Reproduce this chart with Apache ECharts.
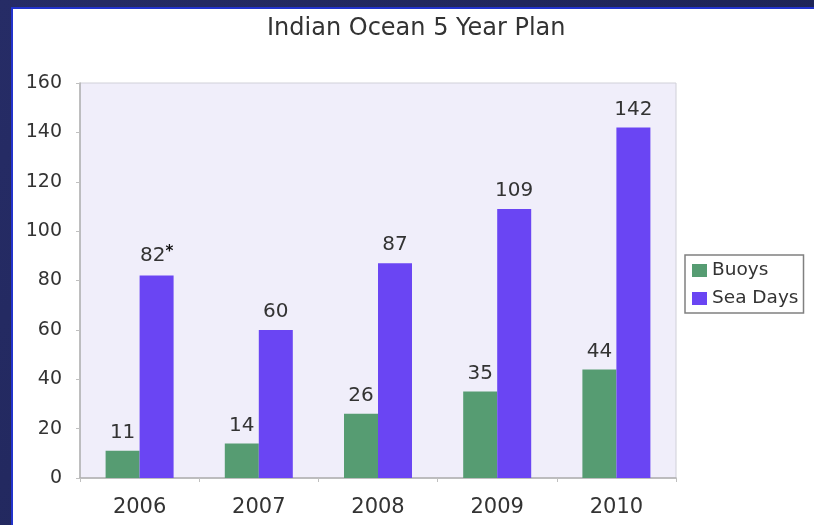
<!DOCTYPE html>
<html><head><meta charset="utf-8">
<script src="https://cdn.jsdelivr.net/npm/echarts@6/dist/echarts.min.js"></script>
<style>html,body{margin:0;padding:0;background:#1d2358;}#c{width:814px;height:525px;}</style>
</head><body><div id="c"></div>
<script>
const categories = ['2006','2007','2008','2009','2010'];
const buoys = [11, 14, 26, 35, 44];
const seaDays = [82, 60, 87, 109, 142];
const seaDaysNotes = ['*', '', '', '', ''];
const yTicks = {min: 0, max: 160, interval: 20};

const chart = echarts.init(document.getElementById('c'));
const font = "'DejaVu Sans', Verdana, sans-serif";
chart.setOption({
  backgroundColor: {type:'linear', x:0, y:0, x2:1, y2:1, colorStops:[{offset:0,color:'#262c66'},{offset:1,color:'#1b2150'}]},
  graphic: [
    {type:'rect', shape:{x:12, y:8, width:820, height:540}, style:{fill:'#ffffff', stroke:'#2233cc', lineWidth:2}, z:-10}
  ],
  title: {
    text: 'Indian Ocean 5 Year Plan', left: 262, top: 12,
    textStyle: {fontFamily: font, fontSize: 24, fontWeight: 'normal', color: '#333'}
  },
  legend: {
    orient: 'vertical', left: 685, top: 255,
    itemWidth: 15, itemHeight: 13, itemGap: 9,
    borderColor: '#808080', borderWidth: 1.5, padding: [6, 5, 5, 7],
    textStyle: {fontFamily: font, fontSize: 18.5, color: '#333'},
    icon: 'rect',
    data: ['Buoys', 'Sea Days']
  },
  grid: {
    left: 80, right: 138, top: 83, bottom: 47, show: true,
    backgroundColor: '#f0eefa', borderColor: '#d0d0d8', borderWidth: 1
  },
  xAxis: {
    type: 'category', data: categories,
    axisLine: {lineStyle: {color: '#b0b0b0', width: 1.5}},
    axisTick: {show: true, length: 4, lineStyle: {color: '#c0c0c0'}},
    axisLabel: {fontFamily: font, fontSize: 21, color: '#333', margin: 19}
  },
  yAxis: {
    type: 'value', min: yTicks.min, max: yTicks.max, interval: yTicks.interval,
    axisLine: {show: true, lineStyle: {color: '#b0b0b0', width: 1.5}},
    axisTick: {show: true, length: 4, lineStyle: {color: '#c0c0c0'}},
    splitLine: {show: false},
    axisLabel: {fontFamily: font, fontSize: 19, color: '#333', margin: 18}
  },
  series: [
    {
      name: 'Buoys', type: 'bar', data: buoys, barWidth: 34, barGap: '0%',
      itemStyle: {color: '#569c72'},
      label: {show: true, position: 'top', distance: 8, fontFamily: font, fontSize: 20, color: '#333'}
    },
    {
      name: 'Sea Days', type: 'bar', data: seaDays, barWidth: 34,
      itemStyle: {color: '#6a45f3'},
      label: {
        show: true, position: 'top', distance: 8, fontFamily: font, fontSize: 20, color: '#333',
        formatter: p => seaDaysNotes[p.dataIndex] ? p.value + '{s|' + seaDaysNotes[p.dataIndex] + '}' : String(p.value),
        rich: {s: {fontFamily: font, fontSize: 15, fontWeight: 'bold', color: '#111', verticalAlign: 'top', padding:[0,0,8,0]}}
      }
    }
  ]
});
</script></body></html>
